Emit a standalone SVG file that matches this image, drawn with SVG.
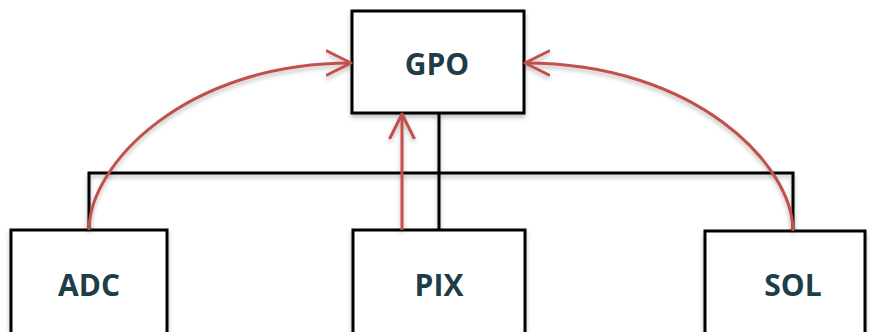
<svg xmlns="http://www.w3.org/2000/svg" width="870" height="332" viewBox="0 0 870 332">
<defs>
<filter id="sh" x="-10%" y="-10%" width="120%" height="130%"><feDropShadow dx="0" dy="3" stdDeviation="2" flood-color="#000" flood-opacity="0.25"/></filter>
<marker id="ah" markerUnits="userSpaceOnUse" markerWidth="30" markerHeight="30" refX="25" refY="13" orient="auto" viewBox="0 0 30 26">
<path d="M1,1 L25,13 L1,25" fill="none" stroke="#c0504d" stroke-width="3" stroke-linecap="round" stroke-linejoin="round"/>
</marker>
<style>
.box{fill:#fff;stroke:#000;stroke-width:3}
.bus{fill:none;stroke:#000;stroke-width:3}
.red{fill:none;stroke:#c0504d;stroke-width:3;marker-end:url(#ah)}
.lbl{font-family:"Open Sans","Noto Sans",sans-serif;font-weight:bold;font-size:30px;fill:#1d3d48;text-anchor:middle}
</style>
</defs>
<g id="connectors" filter="url(#sh)">
<path class="bus" d="M89,230 V173 H793 V230"/>
<path class="bus" d="M439,113 V230"/>
</g>
<g id="GPO"><rect class="box" x="352" y="11" width="172" height="102" filter="url(#sh)"/><text class="lbl" x="437" y="75">GPO</text></g>
<g id="ADC"><rect class="box" x="11" y="230" width="156" height="120" filter="url(#sh)"/><text class="lbl" x="89" y="296">ADC</text></g>
<g id="PIX"><rect class="box" x="353" y="230" width="172" height="120" filter="url(#sh)"/><text class="lbl" x="439" y="296">PIX</text></g>
<g id="SOL"><rect class="box" x="705" y="231" width="160" height="120" filter="url(#sh)"/><text class="lbl" x="793" y="296">SOL</text></g>
<g id="arrows" filter="url(#sh)">
<path class="red" d="M89,230 C89,165 185,63 351,63"/>
<path class="red" d="M402,230 V114"/>
<path class="red" d="M793,231 C793,165 695,63 525,63"/>
</g>
</svg>
